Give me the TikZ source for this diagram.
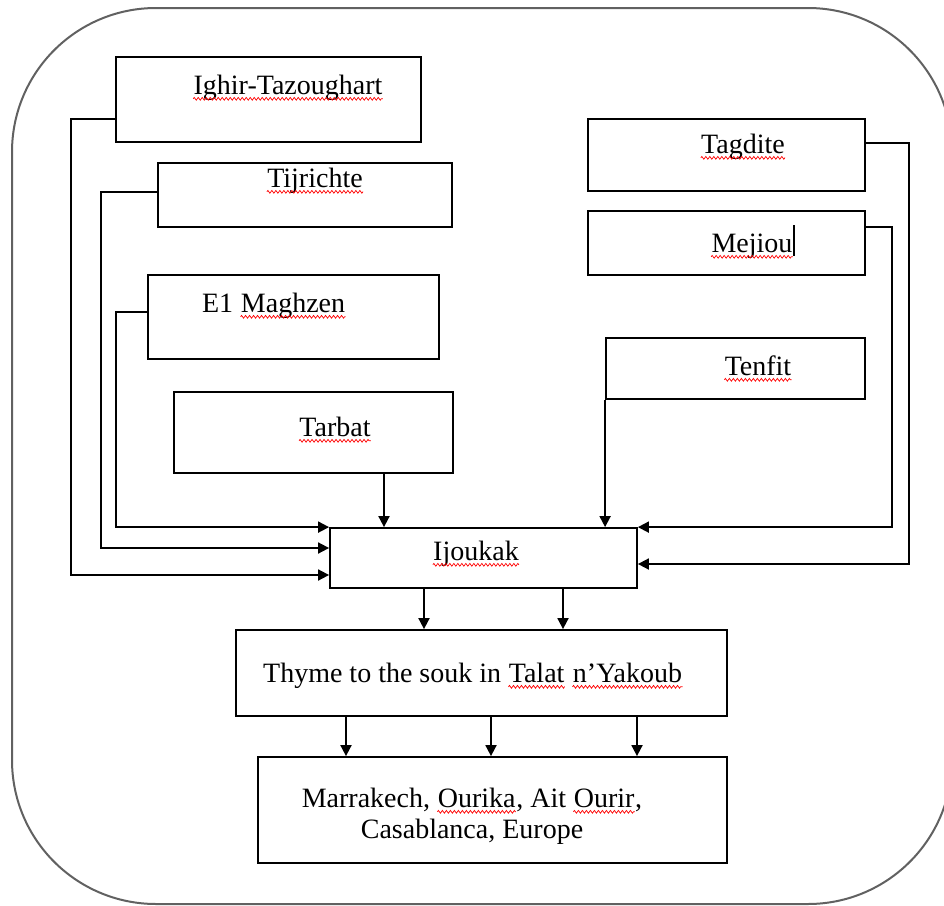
\documentclass[tikz,border=0pt]{standalone}
\usepackage{fontspec}
\setmainfont{Liberation Serif}
\usetikzlibrary{arrows.meta,decorations.pathmorphing}
% red wavy underline, as a spell checker marks a word
\newcommand\wv[1]{\tikz[baseline=0pt,x=1pt,y=1pt]{%
  \node[inner sep=0pt,anchor=base] (w) at (0,0) {#1};
  \draw[red,line width=0.35pt,decorate,decoration={zigzag,amplitude=0.7pt,segment length=2pt}]
    ([yshift=-2.4pt]w.base west) -- ([yshift=-2.4pt]w.base east);}}
\begin{document}
\begin{tikzpicture}[x=0.5pt,y=-0.5pt,
  box/.style={draw,line width=0.9pt,rectangle,inner sep=0pt},
  txt/.style={inner sep=0pt,anchor=base,font=\fontsize{14pt}{15.5pt}\selectfont},
  arr/.style={line width=0.9pt,-{Triangle[length=5.5pt,width=5.5pt]}}]
\useasboundingbox (0,0) rectangle (944,906);
% outer rounded frame
\draw[black!62,line width=1pt,rounded corners=72pt] (12,8) rectangle (952,904);

% boxes
\node[box,minimum width=152.5pt,minimum height=42.5pt] (ighir) at (268.5,99.5) {};
\node[box,minimum width=147pt,minimum height=32pt] (tij) at (305,195) {};
\node[box,minimum width=145.5pt,minimum height=42pt] (elm) at (293.5,317) {};
\node[box,minimum width=139.5pt,minimum height=40.5pt] (tarbat) at (313.5,432.5) {};
\node[box,minimum width=138.5pt,minimum height=36pt] (tag) at (726.5,155) {};
\node[box,minimum width=138.5pt,minimum height=32pt] (mej) at (726.5,243) {};
\node[box,minimum width=129.5pt,minimum height=30.5pt] (tenfit) at (735.5,368.5) {};
\node[box,minimum width=153.5pt,minimum height=30pt] (ijoukak) at (483.5,558) {};
\node[box,minimum width=245.5pt,minimum height=43pt] (thyme) at (481.5,673) {};
\node[box,minimum width=234.5pt,minimum height=53pt] (dest) at (492.5,810) {};

% labels
\node[txt] (ighir-t) at (288,94) {\wv{Ighir-Tazoughart}};
\node[txt] (tij-t) at (315,187) {\wv{Tijrichte}};
\node[txt] (elm-t) at (274,312) {E1 \wv{Maghzen}};
\node[txt] (tarbat-t) at (335,436) {\wv{Tarbat}};
\node[txt] (tag-t) at (743,153) {\wv{Tagdite}};
\node[txt] (mej-t) at (752,252) {\wv{Mejiou}};
\node[txt] (tenfit-t) at (758,375) {\wv{Tenfit}};
\node[txt] (ijoukak-t) at (476,560) {\wv{Ijoukak}};
\node[txt] (thyme-t) at (473,682) {Thyme to the souk in \wv{Talat} \wv{n’Yakoub}};
\node[txt,align=center] (dest-t) at (472,838) {Marrakech, \wv{Ourika}, Ait \wv{Ourir},\\Casablanca, Europe};
% text cursor after Mejiou
\draw[line width=1.1pt] (794,225) -- (794,256);

% left feeders into Ijoukak
\draw[arr] (ighir.west |- 0,119) -- (71,119) |- (ijoukak.west |- 0,575);
\draw[arr] (tij.west |- 0,192) -- (101,192) |- (ijoukak.west |- 0,548);
\draw[arr] (elm.west |- 0,312) -- (116,312) |- (ijoukak.north west);
\draw[arr] (tarbat.south -| 384,0) -- (ijoukak.north -| 384,0);
% right feeders into Ijoukak
\draw[arr] (tenfit.south west) -- (ijoukak.north -| tenfit.west);
\draw[arr] (mej.east |- 0,227) -- (892,227) |- (ijoukak.north east);
\draw[arr] (tag.east |- 0,143) -- (909,143) |- (ijoukak.east |- 0,564);

% Ijoukak to the souk, and onwards
\draw[arr] (ijoukak.south -| 424,0) -- (thyme.north -| 424,0);
\draw[arr] (ijoukak.south -| 563,0) -- (thyme.north -| 563,0);
\draw[arr] (thyme.south -| 346,0) -- (dest.north -| 346,0);
\draw[arr] (thyme.south -| 491,0) -- (dest.north -| 491,0);
\draw[arr] (thyme.south -| 637,0) -- (dest.north -| 637,0);
\end{tikzpicture}
\end{document}
